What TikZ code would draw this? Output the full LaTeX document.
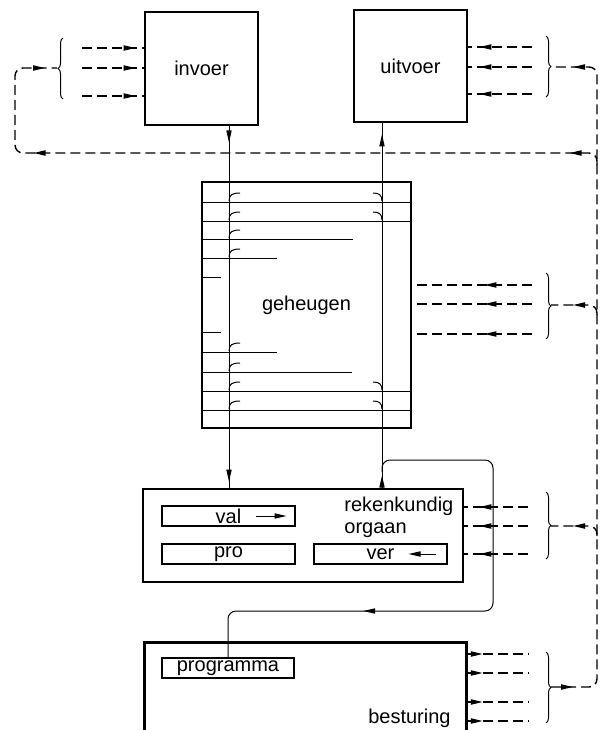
\documentclass[tikz,border=0pt]{standalone}
\usepackage{fontspec}
\setmainfont{Liberation Sans}
\usetikzlibrary{arrows.meta,decorations.pathreplacing,decorations.markings}

\begin{document}
\begin{tikzpicture}[x=0.5pt,y=-0.5pt,>={Triangle[length=6pt,width=2.6pt]},
  unit/.style={draw,line width=1.4pt,inner sep=0pt},
  reg/.style={draw,line width=0.7pt,inner sep=0pt,minimum width=66.5pt,minimum height=10pt},
  wire/.style={line width=0.5pt},
  sig/.style={line width=0.7pt,dash pattern=on 5pt off 2.5pt},
  tipat/.style={postaction={decorate,decoration={markings,mark=at position #1 with {\arrow{>}}}}},
  bracket/.style={line width=0.5pt,decorate,decoration={brace,amplitude=2.5pt}}]
\useasboundingbox (0,0) rectangle (603,730);
\clip (0,0) rectangle (603,730);

% units
\node[unit,minimum width=56.5pt,minimum height=56.5pt] (invoer) at (201.5,68.5) {invoer};
\node[unit,minimum width=56.5pt,minimum height=56pt] (uitvoer) at (410.5,66) {uitvoer};
\node[unit,minimum width=104.5pt,minimum height=123pt] (geheugen) at (306.5,305) {geheugen};
\node[unit,minimum width=160pt,minimum height=46.5pt] (reken) at (303,535.5) {};
\node[unit,minimum width=161pt,minimum height=55pt,anchor=north west] (besturing) at (143,641) {};
\node[anchor=north west,align=left,inner sep=0pt,font=\fontsize{10}{11}\selectfont] (rekentxt) at (344,497) {rekenkundig\\orgaan};
\node[anchor=base east,inner sep=0pt] (besturingtxt) at (451,723) {besturing};

% registers
\node[reg] (val) at (228.5,516) {val};
\node[reg] (pro) at (228.5,554) {pro};
\node[reg] (ver) at (380.5,554) {ver};
\node[reg,minimum width=66pt] (programma) at (228,668) {programma};
\draw[wire,->] ([shift={(27,0)}]val.center) -- ([shift={(58,0)}]val.center);
\draw[wire,->] ([shift={(55,0)}]ver.center) -- ([shift={(28,0)}]ver.center);

% memory cells
\foreach \y/\x in {202/411,221/411,239/353,258/277,277/221,332/221,352/277,372/352,391/411,410/411}
  \draw[wire] (geheugen.west |- 0,\y) -- (\x,\y);

% data wires
\draw[wire,tipat=8pt,tipat=-3pt] (229,0 |- invoer.south) -- (229,0 |- reken.north);
\draw[wire,tipat=6pt,tipat=-5.5pt] (382,0 |- reken.north) -- (382,0 |- uitvoer.south);
\draw[wire,rounded corners=4pt,tipat=-89pt] (382,472) |- (493,460) |- (programma.north |- 0,611) -- (programma.north);
\foreach \y in {202,221,239,258,352,372,391,410}
  \draw[wire] (229,\y-1) .. controls (229,\y-7) and (232,\y-9) .. (240,\y-9);
\foreach \y in {202,221,391,410}
  \draw[wire] (382,\y-1) .. controls (382,\y-7) and (379,\y-9) .. (373,\y-9);

% control signals
\foreach \y in {48,68,96}
  \draw[sig,tipat=-4pt] (82,\y) -- (invoer.west |- 0,\y);
\foreach \y in {47,67,94}
  \draw[sig,tipat=-5.5pt] (532,\y) -- (uitvoer.east |- 0,\y);
\foreach \y in {285,304,334}
  \draw[sig,tipat=-36pt] (532,\y) -- (geheugen.east |- 0,\y);
\foreach \y in {507,526,554}
  \draw[sig,tipat=-7.5pt] (528,\y) -- (reken.east |- 0,\y);
\foreach \y in {654,673,702,721}
  \draw[sig,tipat=7.5pt] (besturing.east |- 0,\y) -- (528,\y);

\draw[bracket] (63,99) -- (63,38);
\draw[bracket] (546,36) -- (546,97);
\draw[bracket] (546,273) -- (546,339);
\draw[bracket] (546,492) -- (546,559);
\draw[bracket] (546,652) -- (546,723);

% control bus
\draw[sig,rounded corners=4pt,tipat=11pt,tipat=-10.5pt] (551,687) -| (597,67) -- (552,67);
\draw[sig,rounded corners=4pt,tipat=18pt,tipat=286pt,tipat=-6pt] (597,165) |- (15,153) |- (57,68);
\draw[sig,rounded corners=4pt,tipat=-11pt] (597,315) |- (551,305);
\draw[sig,rounded corners=4pt,tipat=-11pt] (597,536) |- (551,526);
\end{tikzpicture}
\end{document}
